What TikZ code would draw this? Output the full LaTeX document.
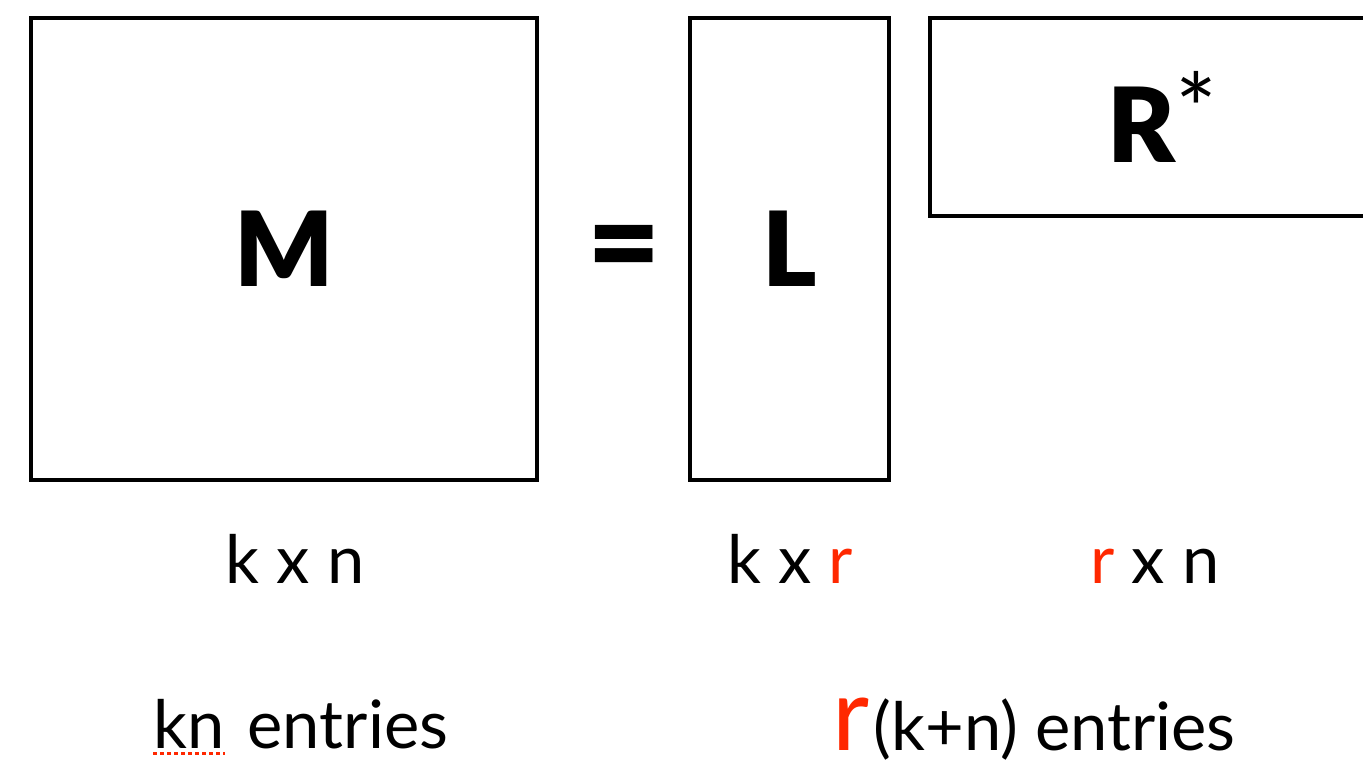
\documentclass[tikz,border=0pt]{standalone}
\usepackage{fontspec}
\setmainfont{Lato}[BoldFont={Lato Black}]
\usetikzlibrary{positioning}
\definecolor{rankred}{RGB}{255,40,0}

\begin{document}
\begin{tikzpicture}[x=0.02cm, y=-0.02cm,
  every node/.style={inner sep=0pt},
  mat/.style={rectangle, draw, line width=2.3pt, align=center,
              font=\fontsize{59}{64}\selectfont\bfseries},
  bigsym/.style={font=\fontsize{72}{76}\selectfont\bfseries},
  dims/.style={anchor=base, font=\fontsize{38}{42}\selectfont},
  count/.style={font=\fontsize{38}{42}\selectfont},
  squig/.style={rankred, line width=1.6pt, dash pattern=on 2pt off 2pt}
]
\useasboundingbox (0,0) rectangle (1363,767);

% the three matrices
\node[mat, minimum width=10.12cm, minimum height=9.24cm] (M) at (284,249) {M};
\node[bigsym] (eq) at (624,256) {=};
\node[mat, minimum width=3.98cm, minimum height=9.24cm] (L) at (789.5,249) {L};
\node[mat, minimum width=9.3cm, minimum height=3.96cm] (R) at (1162.5,117)
  {R{\fontsize{56}{56}\mdseries\selectfont\raisebox{10pt}{*}}};

% sizes
\node[dims] (dM) at (295,583) {k x n};
\node[dims] (dL) at (790,583) {k x \textcolor{rankred}{r}};
\node[dims] (dR) at (1155,583) {\textcolor{rankred}{r} x n};

% entry counts
\node[count, anchor=base west] (kn) at (153,748) {kn};
\node[count, base right=0.45cm of kn] (entM) {entries};
\draw[squig] ([yshift=-3pt]kn.base west) -- ([yshift=-3pt]kn.base east);

\node[anchor=base west, text=rankred, font=\fontsize{58}{60}\selectfont] (rr) at (832,750) {r};
\node[count, base right=2pt of rr] (entLR) {(k+n) entries};

\end{tikzpicture}
\end{document}
